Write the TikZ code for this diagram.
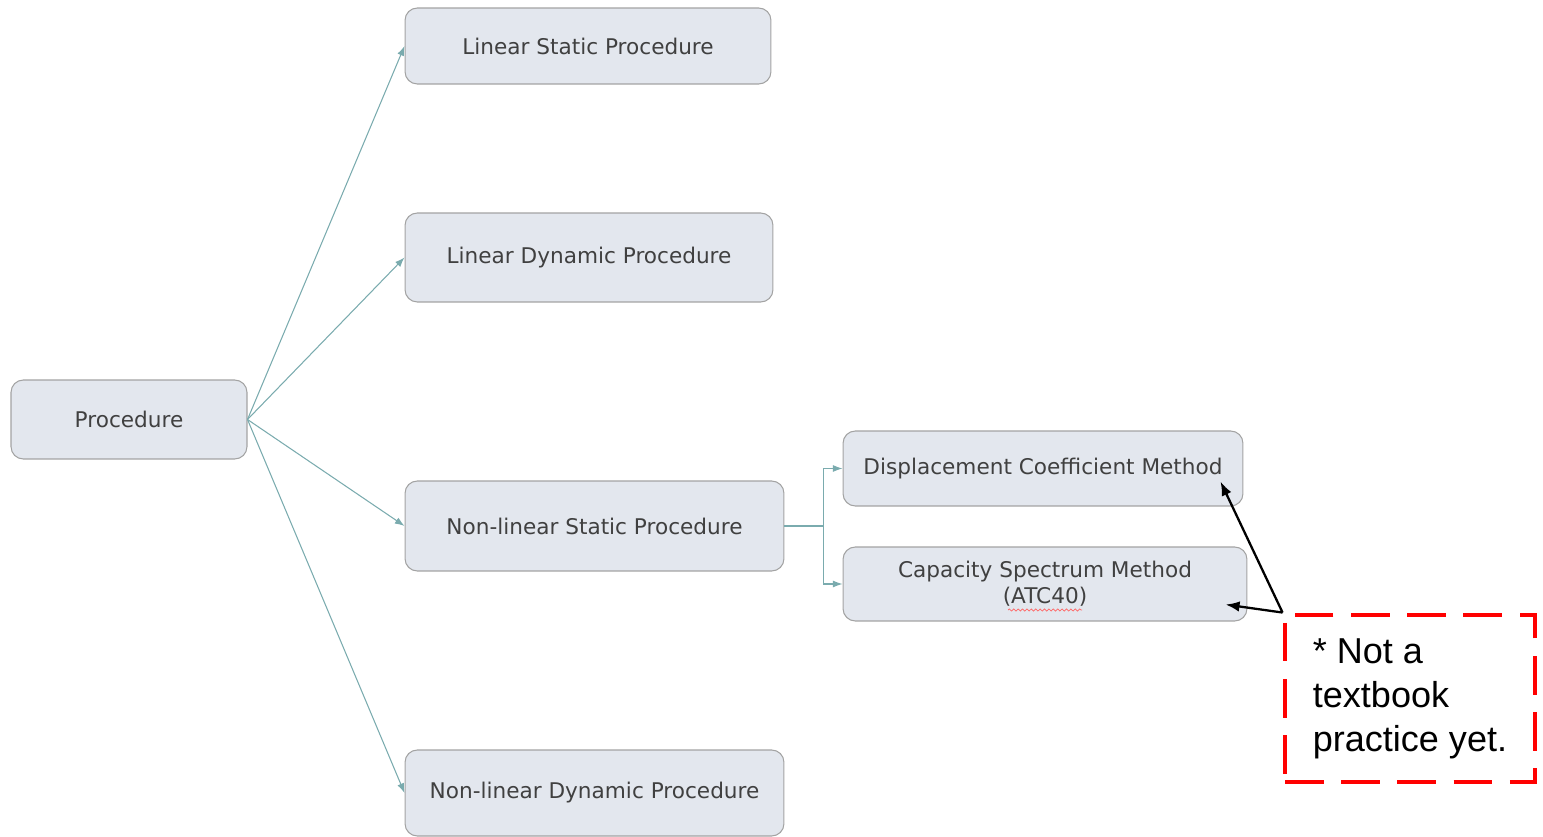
\documentclass[tikz,border=0pt]{standalone}
\usepackage{fontspec}
\setmainfont{DejaVu Sans}
\newfontfamily\notefont{Liberation Sans}
\usetikzlibrary{positioning,calc,arrows.meta,decorations.pathmorphing}
\definecolor{boxfill}{HTML}{E3E7EE}
\definecolor{boxline}{HTML}{A3A3A3}
\definecolor{boxtext}{HTML}{404040}
\definecolor{link}{HTML}{7AABAE}
\tikzset{
  pr/.style={rectangle, rounded corners=7pt, draw=boxline, fill=boxfill, text=boxtext, text centered, align=center, inner sep=0pt, line width=0.6pt, font=\fontsize{12.3}{14.7}\selectfont},
  ln/.style={draw=link, -{Latex[length=5.5pt,width=4pt]}, line width=0.6pt},
  nt/.style={rectangle, draw=red, dashed, dash pattern=on 22pt off 10pt, line width=2.8pt, align=left, inner sep=0pt, font=\notefont\fontsize{20.5}{25}\selectfont},
  pt/.style={draw=black, -{Latex[length=8pt,width=6pt]}, line width=1.3pt},
  sw/.style={draw=red!60, line width=0.4pt, decorate, decoration={snake, segment length=2.5pt, amplitude=0.6pt}}
}
\begin{document}
\begin{tikzpicture}[x=0.02cm, y=-0.02cm]
	\useasboundingbox (0,0) rectangle (1543,837);
	\node[pr, minimum width=4.72cm, minimum height=1.58cm] (proc) at (129,419.5) {Procedure};
	\node[pr, minimum width=7.32cm, minimum height=1.52cm] (lsp) at (588,46) {Linear Static Procedure};
	\node[pr, minimum width=7.36cm, minimum height=1.78cm] (ldp) at (589,257.5) {Linear Dynamic Procedure};
	\node[pr, minimum width=7.58cm, minimum height=1.80cm] (nsp) at (594.5,526) {Non-linear Static Procedure};
	\node[pr, minimum width=7.58cm, minimum height=1.72cm] (ndp) at (594.5,793) {Non-linear Dynamic Procedure};
	\node[pr, minimum width=8.00cm, minimum height=1.50cm] (dcm) at (1043,468.5) {Displacement Coefficient Method};
	\node[pr, minimum width=8.08cm, minimum height=1.48cm] (csm) at (1045,584) {Capacity Spectrum Method\\(ATC40)};
	\node[nt, minimum width=5.0cm, minimum height=3.34cm] (note) at (1410,698.5) {* Not a\\textbook\\practice yet.};
	%
	\draw[ln] (proc.east) -- (lsp.west);
	\draw[ln] (proc.east) -- (ldp.west);
	\draw[ln] (proc.east) -- (nsp.west);
	\draw[ln] (proc.east) -- (ndp.west);
	\draw[draw=link, line width=0.6pt] (nsp.east) -- ++(39,0) coordinate (fork);
	\draw[ln] (fork) |- (dcm.west);
	\draw[ln] (fork) |- (csm.west);
	% spelling mark under ATC40
	\draw[sw] ($(csm.center)+(-37,26)$) -- ($(csm.center)+(37,26)$);
	%
	\draw[pt] (note.north west) -- ($(dcm.south east)+(-23,-25)$);
	\draw[pt] (note.north west) -- ($(csm.south east)+(-22,-17)$);
\end{tikzpicture}
\end{document}
